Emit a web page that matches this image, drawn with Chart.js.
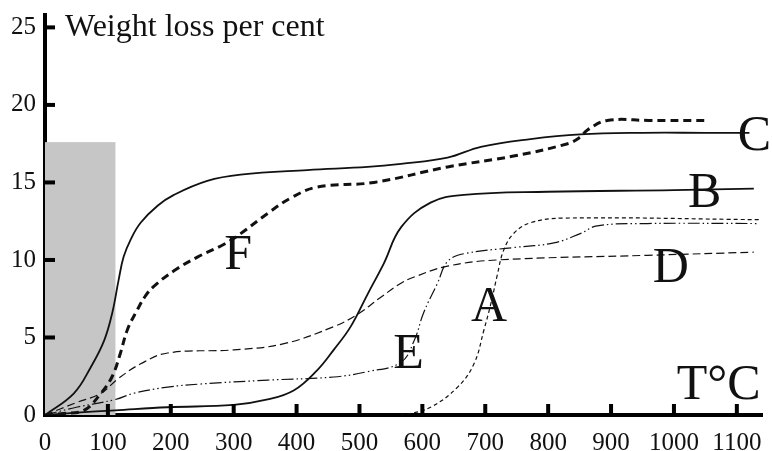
<!DOCTYPE html>
<html>
<head>
<meta charset="utf-8">
<script src="https://cdn.jsdelivr.net/npm/chart.js@4"></script>
<style>
  body { margin: 0; background: #fff; }
  #wrap { width: 772px; height: 451px; position: relative; }
</style>
</head>
<body>
<div id="wrap"><canvas id="myChart"></canvas></div>
<script>
// temperature (deg C) and weight loss (per cent)
var cTemp = [0, 46, 73, 94, 107, 117, 125, 136, 152, 179, 205, 258, 311, 417, 513, 566, 640, 693, 772, 851, 950, 1050, 1120];
var cLoss = [0, 1.4, 3.1, 4.8, 6.6, 8.7, 10.2, 11.3, 12.4, 13.5, 14.2, 15.1, 15.5, 15.8, 16.0, 16.2, 16.6, 17.3, 17.8, 18.1, 18.2, 18.2, 18.2];

var fTemp = [0, 30, 62, 89, 107, 120, 131, 147, 160, 173, 205, 243, 284, 311, 354, 391, 433, 523, 640, 745, 831, 850, 863, 894, 960, 1055];
var fLoss = [0, 0.1, 0.3, 1.4, 2.5, 4.0, 5.5, 6.8, 7.7, 8.3, 9.3, 10.2, 11.0, 11.7, 13.0, 14.0, 14.7, 15.0, 16.0, 16.7, 17.5, 17.9, 18.4, 19.0, 19.0, 19.0];

var bTemp = [0, 50, 112, 195, 300, 354, 396, 433, 459, 486, 513, 539, 566, 613, 666, 799, 1000, 1127];
var bLoss = [0, 0.15, 0.3, 0.5, 0.65, 1.0, 1.6, 2.9, 4.2, 5.7, 7.8, 9.8, 12.1, 13.7, 14.2, 14.4, 14.5, 14.6];

var dTemp = [0, 50, 89, 115, 152, 195, 300, 380, 459, 497, 534, 566, 587, 640, 719, 958, 1127];
var dLoss = [0, 0.8, 1.4, 2.3, 3.3, 4.0, 4.2, 4.6, 5.7, 6.5, 7.6, 8.5, 8.9, 9.6, 10.0, 10.3, 10.5];

var eTemp = [0, 50, 112, 141, 195, 248, 354, 459, 513, 566, 587, 602, 624, 640, 666, 745, 809, 851, 878, 958, 1135];
var eLoss = [0, 0.5, 1.0, 1.4, 1.8, 2.0, 2.25, 2.45, 2.8, 3.4, 4.8, 6.6, 8.5, 9.9, 10.4, 10.8, 11.1, 11.7, 12.2, 12.35, 12.35];

var aTemp = [565, 576, 613, 656, 682, 698, 709, 719, 729, 745, 772, 825, 1135];
var aLoss = [0, 0.05, 0.5, 1.8, 3.3, 5.5, 7.2, 9.0, 10.6, 11.7, 12.4, 12.7, 12.6];

var xTicks = [0, 100, 200, 300, 400, 500, 600, 700, 800, 900, 1000, 1100];
var yTicks = [0, 5, 10, 15, 20, 25];

// shaded band (temp range, loss range)
var shadeTemp = [0, 112];
var shadeLoss = [0, 17.6];

// curve letters: [text, temp, loss]
var curveLabels = [
  ["C", 1128, 18.2],
  ["B", 1049, 14.5],
  ["F", 307, 10.5],
  ["D", 995, 9.7],
  ["A", 706, 7.15],
  ["E", 578, 4.1],
  ["T\u00b0C", 1071, 2.1]
];

function pts(xs, ys) {
  return xs.map((x, i) => ({ x: x, y: ys[i] }));
}

function line(data, width, dash) {
  return {
    data: data,
    borderColor: "#111",
    borderWidth: width,
    borderDash: dash,
    pointRadius: 0,
    fill: false,
    tension: 0.4
  };
}

const serif = "'Liberation Serif', 'Times New Roman', serif";

const shadePlugin = {
  id: "shade",
  beforeDatasetsDraw(chart) {
    const ctx = chart.ctx, xs = chart.scales.x, ys = chart.scales.y;
    const x0 = xs.getPixelForValue(shadeTemp[0]), x1 = xs.getPixelForValue(shadeTemp[1]);
    const y0 = ys.getPixelForValue(shadeLoss[0]), y1 = ys.getPixelForValue(shadeLoss[1]);
    ctx.save();
    ctx.fillStyle = "#c6c6c6";
    ctx.fillRect(x0, y1, x1 - x0, y0 - y1);
    ctx.restore();
  }
};

const decorPlugin = {
  id: "decor",
  afterDatasetsDraw(chart) {
    const ctx = chart.ctx, xs = chart.scales.x, ys = chart.scales.y;
    const area = chart.chartArea;
    ctx.save();
    // inward tick marks
    ctx.strokeStyle = "#000";
    ctx.lineWidth = 4;
    xTicks.slice(1).forEach(v => {
      const px = xs.getPixelForValue(v);
      ctx.beginPath();
      ctx.moveTo(px, area.bottom);
      ctx.lineTo(px, area.bottom - 11);
      ctx.stroke();
    });
    yTicks.slice(1).forEach(v => {
      const py = ys.getPixelForValue(v);
      ctx.beginPath();
      ctx.moveTo(area.left, py);
      ctx.lineTo(area.left + 10, py);
      ctx.stroke();
    });
    // curve letters
    ctx.fillStyle = "#111";
    ctx.font = "50px " + serif;
    ctx.textAlign = "center";
    ctx.textBaseline = "alphabetic";
    curveLabels.forEach(l => {
      ctx.fillText(l[0], xs.getPixelForValue(l[1]), ys.getPixelForValue(l[2]) + 17);
    });
    // axis title
    ctx.font = "32px " + serif;
    ctx.textAlign = "left";
    ctx.fillText("Weight loss per cent", area.left + 20, ys.getPixelForValue(25) + 9);
    ctx.restore();
  }
};

new Chart("myChart", {
  type: "line",
  data: {
    datasets: [
      line(pts(cTemp, cLoss), 1.8, []),
      line(pts(fTemp, fLoss), 3, [8, 5]),
      line(pts(bTemp, bLoss), 1.8, []),
      line(pts(dTemp, dLoss), 1.2, [8, 4]),
      line(pts(eTemp, eLoss), 1.2, [12, 3, 1.5, 3, 1.5, 3]),
      line(pts(aTemp, aLoss), 1.2, [4, 3])
    ]
  },
  options: {
    animation: false,
    responsive: true,
    maintainAspectRatio: false,
    layout: { padding: { top: 15, right: 10, left: 0, bottom: 0 } },
    plugins: { legend: { display: false }, tooltip: { enabled: false } },
    scales: {
      x: {
        type: "linear",
        min: 0,
        max: 1140,
        afterBuildTicks: s => { s.ticks = xTicks.map(v => ({ value: v })); },
        afterFit: s => { s.height = 36; s.paddingLeft = 0; s.paddingRight = 0; },
        grid: { display: false, drawTicks: false },
        border: { display: true, color: "#000", width: 4 },
        ticks: { color: "#111", font: { family: serif, size: 25 }, padding: 13, maxRotation: 0, autoSkip: false, callback: v => String(v) }
      },
      y: {
        min: 0,
        max: 25.8,
        afterBuildTicks: s => { s.ticks = yTicks.map(v => ({ value: v })); },
        afterFit: s => { s.width = 45; s.paddingTop = 0; s.paddingBottom = 0; },
        grid: { display: false, drawTicks: false },
        border: { display: true, color: "#000", width: 4 },
        ticks: { color: "#111", font: { family: serif, size: 25 }, padding: 9 }
      }
    }
  },
  plugins: [shadePlugin, decorPlugin]
});
</script>
</body>
</html>
